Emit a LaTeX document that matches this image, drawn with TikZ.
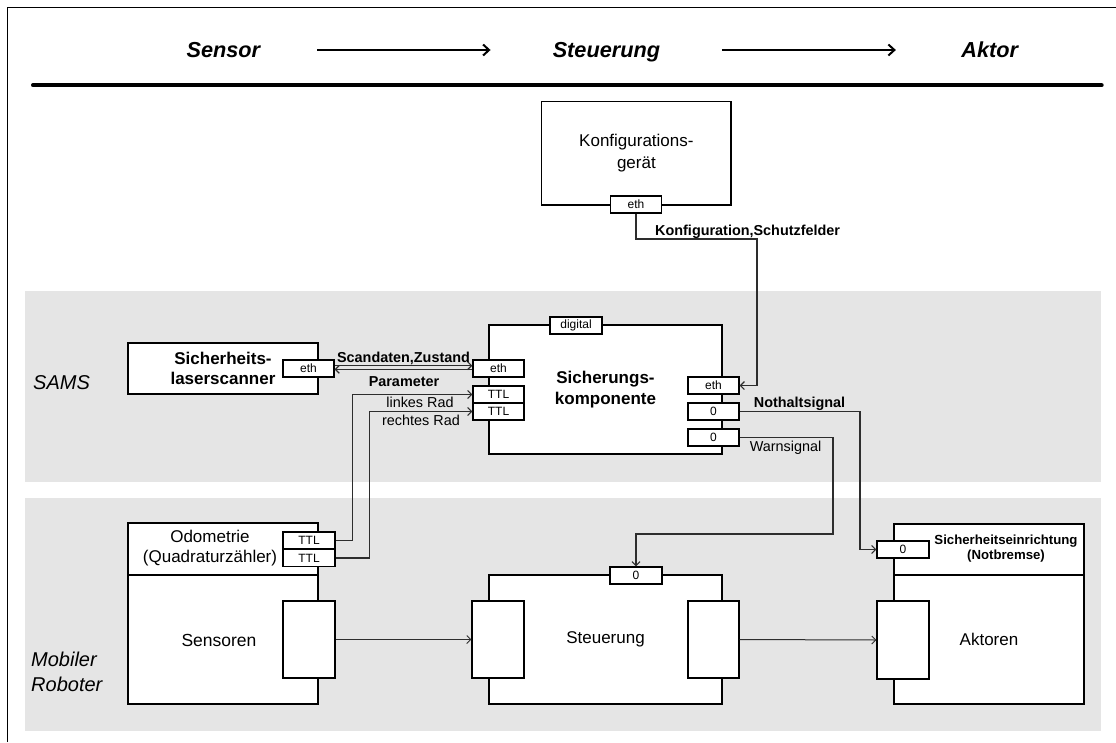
\documentclass[tikz,border=0pt]{standalone}
\usepackage{fontspec}
\setmainfont{Liberation Sans}
\usetikzlibrary{arrows.meta,calc}
\definecolor{band}{RGB}{229,229,229}
\definecolor{ln}{RGB}{45,45,45}
\begin{document}
\begin{tikzpicture}[x=1pt,y=-1pt,
  port/.style={draw=black,fill=white,line width=1.1pt,inner sep=0pt,minimum width=51pt,minimum height=17pt,font=\fontsize{12}{14}\selectfont},
  blk/.style={draw=black,fill=white,line width=1.2pt,inner sep=0pt,align=center},
  txt/.style={inner sep=0pt,align=center},
  lbl/.style={inner sep=0pt,anchor=base,font=\fontsize{14.4}{17}\selectfont},
  blbl/.style={inner sep=0pt,anchor=base,font=\bfseries\fontsize{14.4}{17}\selectfont},
  conn/.style={draw=ln,line width=1.2pt,-{Straight Barb[length=4pt,width=8pt]}},
  hdr/.style={inner sep=0pt,text height=15.6pt,text depth=0pt,font=\bfseries\itshape\fontsize{21.7}{26}\selectfont},
  harr/.style={line width=2pt,-{Straight Barb[length=6pt,width=11pt]}},
  side/.style={inner sep=0pt,align=left,anchor=west,font=\itshape\fontsize{20}{25}\selectfont}
]
\useasboundingbox (0,0) rectangle (1116,742);
% bands
\fill[band] (25,291) rectangle (1101,482);
\fill[band] (25,498) rectangle (1101,731);
% frame
\draw[line width=1.5pt] (7.3,742) -- (7.3,7.3) -- (1116,7.3);
\draw[line width=4pt,line cap=round] (33,85.3) -- (1101.7,85.3);
% header
\node[hdr] (hS) at (223.4,50) {Sensor};
\node[hdr] (hSt) at (606.4,50) {Steuerung};
\node[hdr] (hA) at (989.7,50) {Aktor};
\draw[harr,shorten <=56.7pt,shorten >=62pt] (hS.east) -- (hSt.west);
\draw[harr,shorten <=61.7pt,shorten >=65.3pt] (hSt.east) -- (hA.west);
% side labels
\node[side] (lSAMS) at (33,383) {SAMS};
\node[side] (lMR) at (31,672) {Mobiler\\Roboter};
% Konfigurationsgeraet
\node[blk,minimum width=189.3pt,minimum height=103.3pt,font=\fontsize{17}{22}\selectfont] (cfg) at (636.4,153.4) {Konfigurations-\\gerät};
\node[port] (cfgEth) at (636,204.5) {eth};
% Scanner
\node[blk,minimum width=190pt,minimum height=51pt,font=\bfseries\fontsize{17}{20}\selectfont] (sc) at (223,368.5) {Sicherheits-\\laserscanner};
\node[port] (scEth) at (308.5,368.5) {eth};
% Sicherungskomponente
\node[blk,minimum width=233pt,minimum height=129pt,font=\bfseries\fontsize{17}{21}\selectfont] (sk) at (605.5,389.5) {Sicherungs-\\komponente};
\node[port,minimum width=52pt] (skDig) at (576,325.5) {digital};
\node[port] (skEth) at (498.5,368.5) {eth};
\node[port] (skT1) at (498.5,394.5) {TTL};
\node[port] (skT2) at (498.5,411.5) {TTL};
\node[port] (skEthR) at (713.5,385.5) {eth};
\node[port,line width=1.8pt] (skN) at (713.5,411.5) {0};
\node[port] (skW) at (713.5,437.5) {0};
% Odometrie / Sensoren
\node[blk,minimum width=190pt,minimum height=52pt] (od) at (223,549) {};
\node[txt,font=\fontsize{17}{20}\selectfont] (odT) at (210,548.5) {Odometrie\\(Quadraturzähler)};
\node[port,minimum width=52pt] (odT1) at (309,540.5) {TTL};
\node[port,minimum width=52pt] (odT2) at (309,558) {TTL};
\node[blk,minimum width=190pt,minimum height=129pt] (sens) at (223,639.5) {};
\node[txt,font=\fontsize{17.5}{20}\selectfont] (sensT) at (219,640) {Sensoren};
\node[port,minimum width=52pt,minimum height=77pt] (sensP) at (309,639.5) {};
% Steuerung
\node[blk,minimum width=233pt,minimum height=129pt,font=\fontsize{17}{20}\selectfont] (st) at (605.5,639.5) {Steuerung};
\node[port,minimum width=52pt,minimum height=77pt] (stL) at (498,639.5) {};
\node[port,minimum width=51pt,minimum height=77pt] (stR) at (713.5,639.5) {};
\node[port,minimum width=52pt] (stN) at (636,575.5) {0};
% Sicherheitseinrichtung / Aktoren
\node[blk,minimum width=190pt,minimum height=51pt] (se) at (989,549.5) {};
\node[txt,font=\bfseries\fontsize{13.2}{14.5}\selectfont] (seT) at (1006,548.5) {Sicherheitseinrichtung\\(Notbremse)};
\node[port,minimum width=52pt] (seN) at (903,549.5) {0};
\node[blk,minimum width=190pt,minimum height=129pt,font=\fontsize{17}{20}\selectfont] (ak) at (989,639.5) {Aktoren};
\node[port,minimum width=52pt,minimum height=78pt] (akP) at (903,640) {};
% connectors
\draw[conn] (cfgEth.south) |- (757,239) |- (skEthR.east);
\node[blbl,anchor=base west] (lKonf) at (655,235) {Konfiguration,Schutzfelder};
\draw[conn] ([yshift=2.8pt]scEth.east) -- ([yshift=2.8pt]skEth.west);
\draw[conn] ([yshift=-0.8pt]skEth.west) -- ([yshift=-0.8pt]scEth.east);
\node[blbl] (lScan) at (403.5,362) {Scandaten,Zustand};
\node[blbl] (lPar) at (404,386) {Parameter};
\draw[conn] (odT1.east) -- ++(17,0) |- (skT1.west);
\draw[conn] (odT2.east) -- ++(34,0) |- (skT2.west);
\node[lbl] (lL) at (420,407) {linkes Rad};
\node[lbl] (lR) at (421,425) {rechtes Rad};
\draw[conn] (skN.east) -| (860,549.5) -- (seN.west);
\node[blbl] (lNot) at (799.5,407) {Nothaltsignal};
\draw[conn] (skW.east) -| (833,534) -| (stN.north);
\node[lbl] (lWarn) at (785.5,451) {Warnsignal};
\draw[conn,line width=1pt] (sensP.east) -- (stL.west);
\draw[conn,line width=1pt] (stR.east) -- (akP.west);
\end{tikzpicture}
\end{document}
